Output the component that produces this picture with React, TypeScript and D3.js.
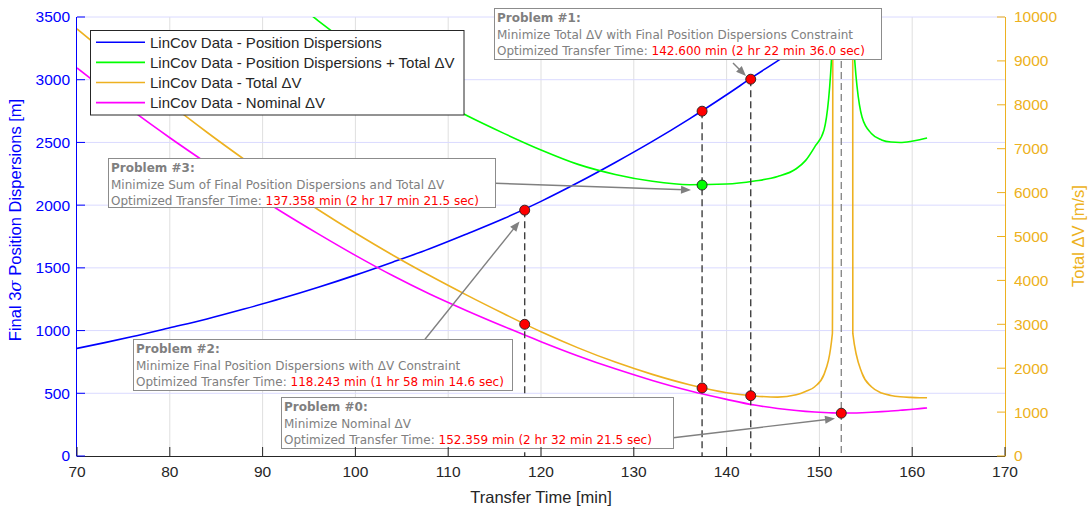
import React from "react";
import * as d3 from "d3";

// ---------- data ----------
const transferTime = [70, 73, 76, 80, 84, 88, 92, 96, 100, 104, 108, 112, 116, 120, 124, 128, 132, 136, 140, 143, 145.5, 147.5, 148.5, 149.5, 150.5, 151.4, 152.5, 153.6, 154.6, 155.6, 156.7, 157.7, 158.7, 159.8, 160.8, 161.6];
// left axis [m]
const posDisp = [858, 904, 952, 1022, 1093, 1172, 1255, 1345, 1442, 1545, 1652, 1770, 1893, 2030, 2180, 2340, 2508, 2688, 2880, 3030, 3150, 3250, 3300, 3352, 3405, 3455, 3515, 3575, 3630, 3685, 3745, 3800, 3855, 3920, 3980, 4030];
const posDispPlusDv = [5560, 5250, 4960, 4600, 4270, 3974, 3710, 3470, 3250, 3050, 2872, 2714, 2572, 2440, 2325, 2245, 2190, 2163, 2168, 2192, 2228, 2290, 2355, 2465, 2600, 3300, 40000, 3400, 2700, 2571, 2520, 2503, 2500, 2508, 2522, 2536];
// right axis [m/s]
const totalDv = [9730, 9205, 8690, 8020, 7375, 6760, 6170, 5610, 5080, 4580, 4110, 3665, 3240, 2830, 2463, 2139, 1859, 1623, 1442, 1368, 1340, 1395, 1470, 1578, 1860, 2790, 1000000, 2793, 1882, 1578, 1435, 1380, 1350, 1335, 1328, 1327];
const nominalDv = [8839, 8345, 7860, 7250, 6670, 6110, 5570, 5060, 4570, 4110, 3690, 3310, 2950, 2605, 2280, 1985, 1720, 1485, 1290, 1160, 1083, 1036, 1017, 1002, 990, 982, 978, 979, 985, 995, 1010, 1025, 1041, 1060, 1080, 1095];

const xTicks = [70, 80, 90, 100, 110, 120, 130, 140, 150, 160, 170];
const yLeftTicks = [0, 500, 1000, 1500, 2000, 2500, 3000, 3500];
const yRightTicks = [0, 1000, 2000, 3000, 4000, 5000, 6000, 7000, 8000, 9000, 10000];

// optimum transfer times
const optTimes = [152.359, 142.6, 118.243, 137.358];
// markers
const markerTime = [118.243, 118.243, 137.358, 137.358, 137.358, 142.6, 142.6, 152.359];
const markerValue = [1960, 3000, 2749, 2160, 1550, 3004, 1373, 975];
const markerAxis = ["L", "R", "L", "L", "R", "L", "R", "R"];
const markerFill = ["#ff0000", "#ff0000", "#ff0000", "#00ff00", "#ff0000", "#ff0000", "#ff0000", "#ff0000"];
// dashed guide line tops (left-axis value, null = top of axes)
const guideTop = [null, 3004, 1960, 2749];

const legendLabels = [
  "LinCov Data - Position Dispersions",
  "LinCov Data - Position Dispersions + Total \u0394V",
  "LinCov Data - Total \u0394V",
  "LinCov Data - Nominal \u0394V",
];

const annTitles = ["Problem #1:", "Problem #3:", "Problem #2:", "Problem #0:"];
const annLines = [
  "Minimize Total \u0394V with Final Position Dispersions Constraint",
  "Minimize Sum of Final Position Dispersions and Total \u0394V",
  "Minimize Final Position Dispersions with \u0394V Constraint",
  "Minimize Nominal \u0394V",
];
const annValues = [
  "142.600 min (2 hr 22 min 36.0 sec)",
  "137.358 min (2 hr 17 min 21.5 sec)",
  "118.243 min (1 hr 58 min 14.6 sec)",
  "152.359 min (2 hr 32 min 21.5 sec)",
];

// ---------- layout ----------
const W = 1092, H = 510;
const PL = 77, PR = 1005, PT = 17, PB = 456;
const annBoxes = [
  { x: 494, y: 8, w: 387, h: 51 },
  { x: 108, y: 158, w: 387, h: 49 },
  { x: 133, y: 339, w: 379, h: 51 },
  { x: 281, y: 397, w: 392, h: 51 },
];
const arrows = [
  { x1: 733, y1: 63, x2: 746, y2: 76 },
  { x1: 495, y1: 183.3, x2: 691, y2: 190 },
  { x1: 425, y1: 339.3, x2: 519.5, y2: 221.5 },
  { x1: 673.3, y1: 437.7, x2: 835, y2: 418.5 },
];

const BLUE = "#0000ff", GREEN = "#00ff00", ORANGE = "#EDB120", MAGENTA = "#ff00ff";
const DARK = "#262626";
const FONT = "'Liberation Sans', Arial, sans-serif";
const AFONT = "'DejaVu Sans', Verdana, sans-serif";

export default function App() {
  const x = d3.scaleLinear().domain([70, 170]).range([PL, PR]);
  const yL = d3.scaleLinear().domain([0, 3500]).range([PB, PT]);
  const yR = d3.scaleLinear().domain([0, 10000]).range([PB, PT]);

  const mk = (vals: number[], y: d3.ScaleLinear<number, number>) =>
    d3.line<number>().x((_, i) => x(transferTime[i])).y((v) => y(v)).curve(d3.curveMonotoneX)(vals) || "";

  const series = [
    { d: mk(posDisp, yL), c: BLUE },
    { d: mk(posDispPlusDv, yL), c: GREEN },
    { d: mk(totalDv, yR), c: ORANGE },
    { d: mk(nominalDv, yR), c: MAGENTA },
  ];
  const legendColors = [BLUE, GREEN, ORANGE, MAGENTA];

  const arrowHead = (a: { x1: number; y1: number; x2: number; y2: number }) => {
    const ang = Math.atan2(a.y2 - a.y1, a.x2 - a.x1);
    const L = 10, Wd = 4;
    const bx = a.x2 - L * Math.cos(ang), by = a.y2 - L * Math.sin(ang);
    const px = -Math.sin(ang) * Wd, py = Math.cos(ang) * Wd;
    return `M${a.x2},${a.y2}L${bx + px},${by + py}L${bx - px},${by - py}Z`;
  };

  return (
    <div style={{ position: "absolute", left: 0, top: 0 }}>
      <svg width={W} height={H} style={{ display: "block", background: "#fff" }}>
        <defs>
          <clipPath id="plot">
            <rect x={PL} y={PT} width={PR - PL} height={PB - PT} />
          </clipPath>
        </defs>
        <rect x={0} y={0} width={W} height={H} fill="#fff" />
        {/* grid */}
        {xTicks.slice(1, -1).map((t) => (
          <line key={"gx" + t} x1={x(t)} x2={x(t)} y1={PT} y2={PB} stroke="#dfdfdf" strokeWidth={1} />
        ))}
        {yLeftTicks.slice(1).map((t) => (
          <line key={"gy" + t} x1={PL} x2={PR} y1={yL(t)} y2={yL(t)} stroke="#dadaff" strokeWidth={1} />
        ))}
        {/* curves */}
        <g clipPath="url(#plot)">
          {series.map((s, i) => (
            <path key={i} d={s.d} fill="none" stroke={s.c} strokeWidth={1.6} strokeLinejoin="round" />
          ))}
        </g>
        {/* dashed guides */}
        {optTimes.map((t, i) => (
          <line
            key={"dg" + i}
            x1={x(t)}
            x2={x(t)}
            y1={guideTop[i] === null ? PT : yL(guideTop[i] as number)}
            y2={PB}
            stroke={i === 0 ? "#8a8a8a" : "#404040"}
            strokeWidth={1.4}
            strokeDasharray="7 4"
          />
        ))}
        {/* markers */}
        {markerTime.map((t, i) => (
          <circle
            key={"m" + i}
            cx={x(t)}
            cy={markerAxis[i] === "L" ? yL(markerValue[i]) : yR(markerValue[i])}
            r={5}
            fill={markerFill[i]}
            stroke="#202020"
            strokeWidth={0.9}
          />
        ))}
        {/* arrows */}
        {arrows.map((a, i) => {
          const ang = Math.atan2(a.y2 - a.y1, a.x2 - a.x1);
          return (
            <g key={"a" + i}>
              <line x1={a.x1} y1={a.y1} x2={a.x2 - 6 * Math.cos(ang)} y2={a.y2 - 6 * Math.sin(ang)} stroke="#808080" strokeWidth={1.4} />
              <path d={arrowHead(a)} fill="#808080" />
            </g>
          );
        })}
        {/* annotation boxes */}
        {annBoxes.map((b, i) => (
          <g key={"ann" + i} fontFamily={AFONT} fontSize={12}>
            <rect x={b.x + 0.5} y={b.y + 0.5} width={b.w} height={b.h} fill="#fff" stroke="#8c8c8c" strokeWidth={1} />
            <text x={b.x + 3} y={b.y + 14} fill="#7f7f7f" fontWeight="bold">{annTitles[i]}</text>
            <text x={b.x + 3} y={b.y + 30.5} fill="#808080">{annLines[i]}</text>
            <text x={b.x + 3} y={b.y + 47} fill="#808080">
              Optimized Transfer Time: <tspan fill="#ff0000">{annValues[i]}</tspan>
            </text>
          </g>
        ))}
        {/* legend */}
        <g fontFamily={FONT} fontSize={15}>
          <rect x={90.5} y={30.5} width={373.5} height={84.5} fill="#fff" stroke={DARK} strokeWidth={1} />
          {legendLabels.map((l, i) => (
            <g key={"lg" + i}>
              <line x1={96} x2={145} y1={42.3 + i * 20.1} y2={42.3 + i * 20.1} stroke={legendColors[i]} strokeWidth={1.6} />
              <text x={150} y={42.3 + i * 20.1} dy="0.36em" fill={DARK}>{l}</text>
            </g>
          ))}
        </g>
        {/* axes */}
        <line x1={PL} x2={PR} y1={PB + 0.5} y2={PB + 0.5} stroke={DARK} strokeWidth={1} />
        <line x1={PL - 0.5} x2={PL - 0.5} y1={PT} y2={PB + 0.5} stroke={BLUE} strokeWidth={1} />
        <line x1={PR + 0.5} x2={PR + 0.5} y1={PT} y2={PB + 0.5} stroke={ORANGE} strokeWidth={1} />
        {xTicks.map((t) => (
          <g key={"xt" + t}>
            <line x1={x(t)} x2={x(t)} y1={PB} y2={PB - 9} stroke={DARK} strokeWidth={1} />
            <text x={x(t)} y={477} textAnchor="middle" fontFamily={FONT} fontSize={15.5} fill={DARK}>{t}</text>
          </g>
        ))}
        {yLeftTicks.map((t) => (
          <g key={"yl" + t}>
            <line x1={PL} x2={PL + 8} y1={yL(t)} y2={yL(t)} stroke={BLUE} strokeWidth={1} />
            <text x={70} y={yL(t)} dy="0.35em" textAnchor="end" fontFamily={FONT} fontSize={15.5} fill={BLUE}>{t}</text>
          </g>
        ))}
        {yRightTicks.map((t) => (
          <g key={"yr" + t}>
            <line x1={PR} x2={PR - 8} y1={yR(t)} y2={yR(t)} stroke={ORANGE} strokeWidth={1} />
            <text x={1014} y={yR(t)} dy="0.35em" textAnchor="start" fontFamily={FONT} fontSize={15.5} fill={ORANGE}>{t}</text>
          </g>
        ))}
        {/* axis titles */}
        <text x={(PL + PR) / 2} y={503} textAnchor="middle" fontFamily={FONT} fontSize={16.5} fill={DARK}>Transfer Time [min]</text>
        <text transform="translate(21,220) rotate(-90)" textAnchor="middle" fontFamily={FONT} fontSize={16.5} fill={BLUE}>
          Final 3<tspan fontStyle="italic" fontFamily="'DejaVu Serif', serif">{"\u03c3"}</tspan> Position Dispersions [m]
        </text>
        <text transform="translate(1084,236) rotate(-90)" textAnchor="middle" fontFamily={FONT} fontSize={16.5} fill={ORANGE}>
          Total {"\u0394"}V [m/s]
        </text>
      </svg>
    </div>
  );
}
